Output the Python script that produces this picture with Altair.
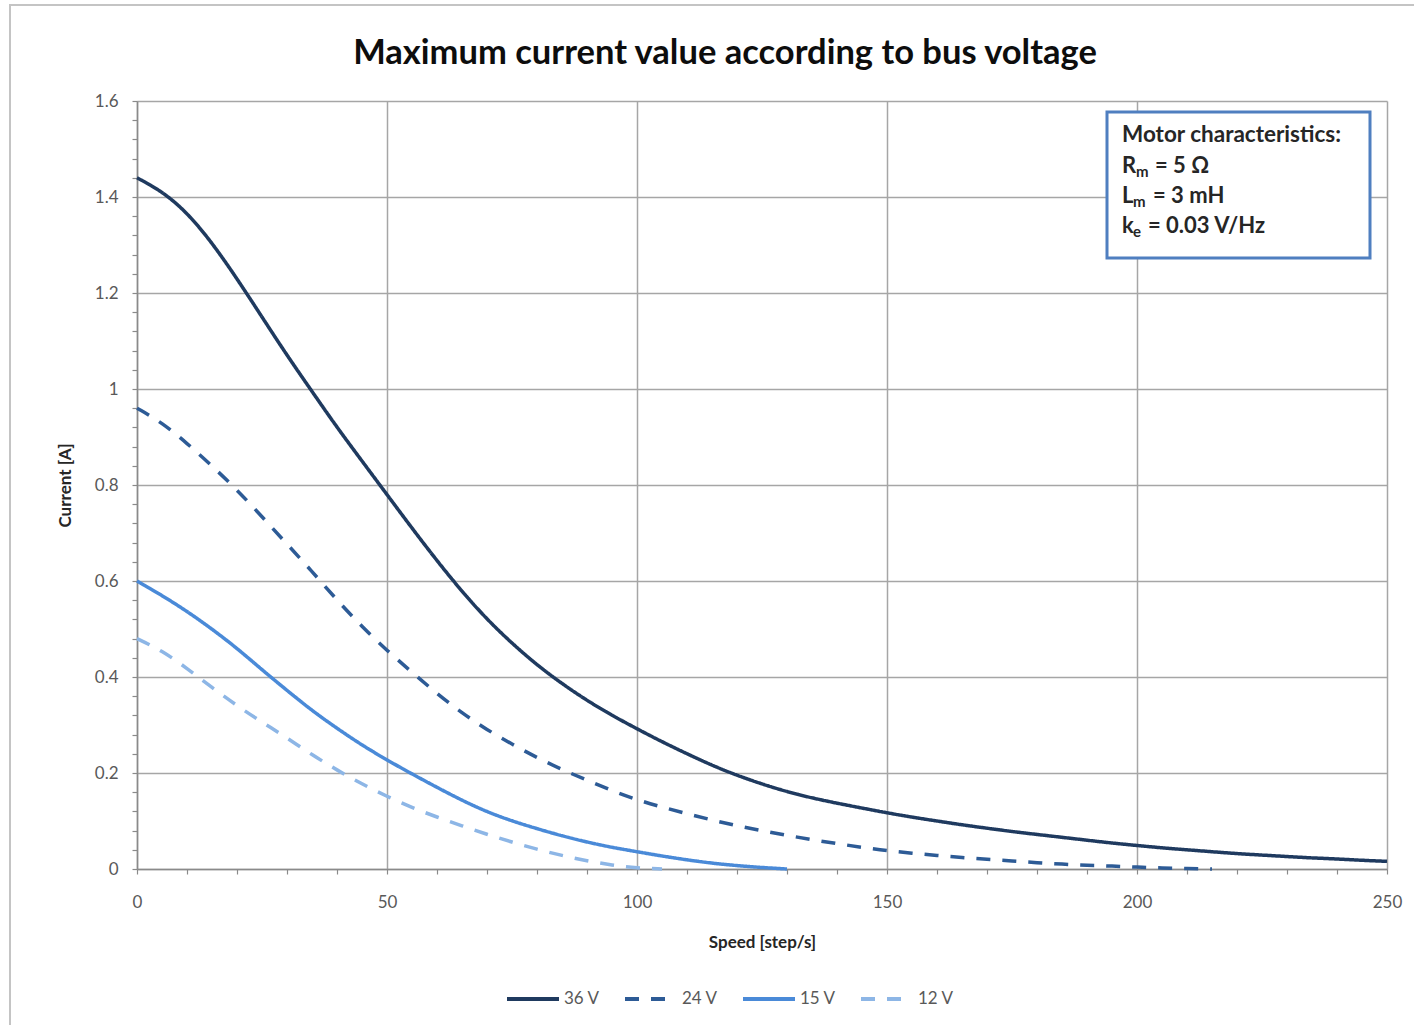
import altair as alt
import pandas as pd

# ---------------- data ----------------
SPEEDS = list(range(0, 251, 5))

CURRENT_36V = [1.44, 1.412, 1.368, 1.305, 1.23, 1.15, 1.07, 0.995, 0.92, 0.85,
               0.78, 0.71, 0.642, 0.578, 0.52, 0.47, 0.425, 0.386, 0.351, 0.32,
               0.292, 0.265, 0.24, 0.216, 0.195, 0.177, 0.161, 0.148, 0.137, 0.127,
               0.117, 0.108, 0.100, 0.092, 0.085, 0.078, 0.072, 0.066, 0.060, 0.054,
               0.049, 0.044, 0.040, 0.036, 0.032, 0.029, 0.026, 0.023, 0.021, 0.018,
               0.016]
CURRENT_24V = [0.96, 0.93, 0.887, 0.84, 0.79, 0.734, 0.677, 0.62, 0.56, 0.505,
               0.455, 0.41, 0.365, 0.325, 0.29, 0.26, 0.232, 0.207, 0.185, 0.163,
               0.144, 0.129, 0.115, 0.102, 0.09, 0.08, 0.07, 0.061, 0.053, 0.045,
               0.038, 0.033, 0.028, 0.024, 0.020, 0.017, 0.013, 0.010, 0.008, 0.006,
               0.004, 0.002, 0.001, 0.0]
CURRENT_15V = [0.6, 0.57, 0.537, 0.5, 0.46, 0.415, 0.372, 0.33, 0.293, 0.258,
               0.227, 0.198, 0.17, 0.143, 0.119, 0.1, 0.084, 0.069, 0.056, 0.045,
               0.036, 0.027, 0.019, 0.012, 0.007, 0.003, 0.0]
CURRENT_12V = [0.48, 0.455, 0.418, 0.378, 0.34, 0.306, 0.273, 0.238, 0.206, 0.177,
               0.151, 0.128, 0.108, 0.09, 0.072, 0.056, 0.041, 0.028, 0.017, 0.008,
               0.002, 0.0]

SERIES = ["36 V", "24 V", "15 V", "12 V"]
SERIES_VALUES = [CURRENT_36V, CURRENT_24V, CURRENT_15V, CURRENT_12V]
COLORS = ["#1F3A5F", "#2D5B96", "#4A8AD8", "#8DB6E6"]
DASHES = [[1, 0], [14, 12], [1, 0], [14, 12]]

X_TICKS = list(range(0, 251, 10))
Y_TICKS = [round(i * 0.04, 2) for i in range(41)]

CHART_TITLE = "Maximum current value according to bus voltage"
NOTE_TITLE = "Motor characteristics:"
NOTE_MAIN = ["R", "L", "k"]
NOTE_SUB = ["m", "m", "e"]
NOTE_REST = ["= 5 Ω", "= 3 mH", "= 0.03 V/Hz"]

rows = []
for name, vals in zip(SERIES, SERIES_VALUES):
    for s, v in zip(SPEEDS, vals):
        rows.append({"speed": s, "current": v, "series": name})
df = pd.DataFrame(rows)

FONT = "Lato"
GRAY = "#595959"
TEXT = "#262626"

# ---------------- main lines ----------------
x_axis = alt.Axis(
    values=X_TICKS, tickCount=60,
    labelExpr="datum.value % 50 === 0 ? datum.label : ''",
    gridOpacity={"condition": {"test": "datum.value % 50 !== 0", "value": 0}, "value": 1},
    labelOverlap=False, labelFlush=False,
    title="Speed [step/s]",
    tickSize=5, labelPadding=20, titlePadding=24,
)
y_axis = alt.Axis(
    values=Y_TICKS, tickCount=100,
    format="~g",
    labelExpr="abs(datum.value*5 - round(datum.value*5)) > 0.001 ? '' : datum.label",
    gridOpacity={"condition": {"test": "abs(datum.value*5 - round(datum.value*5)) > 0.001", "value": 0}, "value": 1},
    labelOverlap=False, labelFlush=False,
    title="Current [A]",
    tickSize=5, labelPadding=14, titlePadding=20,
)

legend = alt.Legend(title=None, orient="none", legendX=368, legendY=870, direction="horizontal")

lines = alt.Chart(df).mark_line(strokeWidth=3.5, interpolate="basis").encode(
    x=alt.X("speed:Q", scale=alt.Scale(domain=[0, 250], nice=False, zero=True), axis=x_axis),
    y=alt.Y("current:Q", scale=alt.Scale(domain=[0, 1.6], nice=False), axis=y_axis),
    color=alt.Color("series:N", scale=alt.Scale(domain=SERIES, range=COLORS), legend=legend),
    strokeDash=alt.StrokeDash("series:N", scale=alt.Scale(domain=SERIES, range=DASHES), legend=legend),
    detail="series:N",
)

# ---------------- outer frame & title ----------------
frame = alt.Chart(pd.DataFrame({"a": [0]})).mark_rect(
    fill=None, stroke="#C4C4C4", strokeWidth=2
).encode(
    x=alt.value(-127), x2=alt.value(1320), y=alt.value(-96), y2=alt.value(1000)
)

title = alt.Chart(pd.DataFrame({"t": [CHART_TITLE]})).mark_text(
    align="center", baseline="middle", font=FONT, fontSize=34.5, fontWeight="bold", color="#0D0D0D"
).encode(x=alt.value(588), y=alt.value(-47), text="t:N")

# ---------------- annotation box ----------------
box_df = pd.DataFrame({"x1": [194.0], "x2": [246.6], "y1": [1.577], "y2": [1.273]})
box = alt.Chart(box_df).mark_rect(fill="white", stroke="#4F7FC0", strokeWidth=3).encode(
    x="x1:Q", x2="x2:Q", y="y1:Q", y2="y2:Q"
)

title_df = pd.DataFrame({"x": [197.0], "y": [1.529], "t": [NOTE_TITLE]})
note_title = alt.Chart(title_df).mark_text(
    align="left", baseline="middle", font=FONT, fontWeight="bold", fontSize=22.5, color=TEXT
).encode(x="x:Q", y="y:Q", text="t:N")

LINE_Y = [1.465, 1.402, 1.340]
SUB_DX = [14, 11, 11]
REST_DX = [33, 31, 26]
main_df = pd.DataFrame({"x": [197.0] * 3, "y": LINE_Y, "t": NOTE_MAIN})
sub_df = pd.DataFrame({"x": [197.0 + d / 5 for d in SUB_DX], "y": LINE_Y, "t": NOTE_SUB})
rest_df = pd.DataFrame({"x": [197.0 + d / 5 for d in REST_DX], "y": LINE_Y, "t": NOTE_REST})

note_main = alt.Chart(main_df).mark_text(
    align="left", baseline="middle", font=FONT, fontWeight="bold", fontSize=22, color=TEXT
).encode(x="x:Q", y="y:Q", text="t:N")
note_sub = alt.Chart(sub_df).mark_text(
    align="left", baseline="middle", font=FONT, fontWeight="bold", fontSize=15, color=TEXT, dy=6
).encode(x="x:Q", y="y:Q", text="t:N")
note_rest = alt.Chart(rest_df).mark_text(
    align="left", baseline="middle", font=FONT, fontWeight="bold", fontSize=22, color=TEXT
).encode(x="x:Q", y="y:Q", text="t:N")

chart = alt.layer(frame, title, lines, box, note_title, note_main, note_sub, note_rest).properties(
    width=1250, height=768,
    background="white",
    autosize=alt.AutoSizeParams(type="none"),
    padding={"left": 137, "top": 101, "right": 27, "bottom": 156},
).configure_view(stroke=None).configure_axis(
    labelFont=FONT, labelFontSize=17, labelColor=GRAY,
    titleFont=FONT, titleFontSize=17, titleFontWeight="bold", titleColor=TEXT,
    gridColor="#A6A6A6", gridWidth=1.5,
    domainColor="#8A8A8A", domainWidth=1.5,
    tickColor="#8A8A8A", tickWidth=1.2,
).configure_legend(
    symbolType="stroke", symbolSize=2704, symbolStrokeWidth=4,
    labelFont=FONT, labelFontSize=17, labelColor=GRAY,
    labelOffset=3, columnPadding=17,
)

chart.save("out.html", embed_options={"renderer": "svg", "actions": False})
